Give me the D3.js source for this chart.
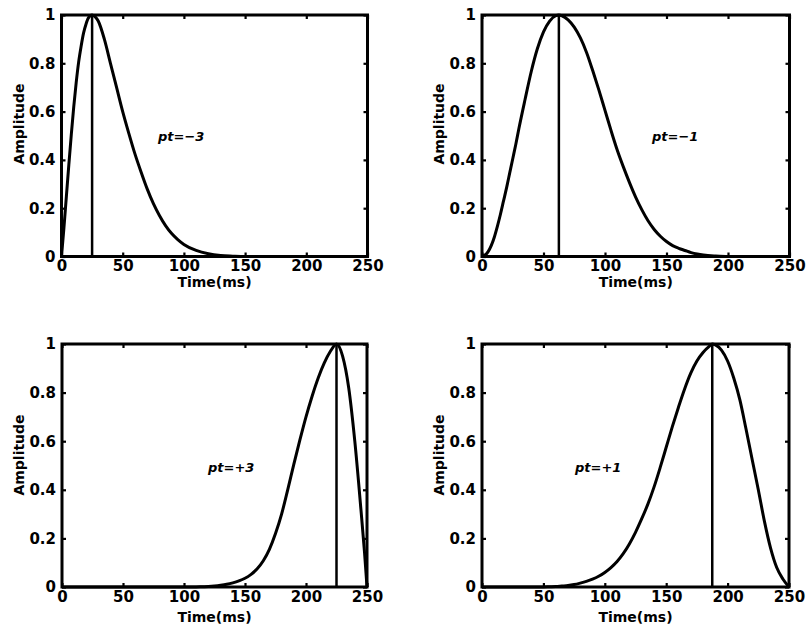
<!DOCTYPE html>
<html>
<head>
<meta charset="utf-8">
<script src="https://cdn.jsdelivr.net/npm/d3@7"></script>
<style>
  html, body { margin: 0; padding: 0; background: #fff; }
  svg { display: block; }
  text { font-family: "DejaVu Sans", sans-serif; font-weight: bold; fill: #000; }
</style>
</head>
<body>
<svg id="chart" width="806" height="633"></svg>
<script>
// ---- Data ----
const xTicks = [0, 50, 100, 150, 200, 250];
const yTicks = [0, 0.2, 0.4, 0.6, 0.8, 1];
const xLabel = "Time(ms)";
const yLabel = "Amplitude";

// Panel 1: pt = -3 (peak at 25 ms)
const time1 = [0, 2, 4, 6, 8, 10, 12, 14, 16, 18, 20, 22, 25, 28, 30, 35, 40, 45, 50, 55, 60, 65, 70, 75, 80, 85, 90, 95, 100, 110, 120, 130, 140, 150, 175, 200, 225, 250];
const amp1  = [0, 0.12, 0.25, 0.38, 0.505, 0.62, 0.72, 0.805, 0.87, 0.925, 0.962, 0.988, 1.0, 0.99, 0.975, 0.9, 0.8, 0.7, 0.6, 0.51, 0.425, 0.35, 0.28, 0.22, 0.17, 0.128, 0.095, 0.07, 0.05, 0.025, 0.011, 0.004, 0.0015, 0, 0, 0, 0, 0];

// Panel 2: pt = -1 (peak at 62.5 ms)
const time2 = [0, 2.5, 5, 7.5, 10, 12.5, 15, 17.5, 20, 22.5, 25, 27.5, 30, 35, 40, 45, 50, 55, 60, 62.5, 65, 70, 75, 80, 85, 90, 95, 100, 105, 110, 115, 120, 125, 130, 135, 140, 145, 150, 155, 160, 165, 170, 175, 180, 190, 200, 225, 250];
const amp2  = [0, 0.006, 0.02, 0.045, 0.08, 0.125, 0.175, 0.23, 0.285, 0.345, 0.405, 0.465, 0.53, 0.65, 0.765, 0.86, 0.93, 0.975, 0.997, 1.0, 0.997, 0.98, 0.95, 0.905, 0.845, 0.77, 0.69, 0.605, 0.52, 0.44, 0.37, 0.305, 0.245, 0.193, 0.148, 0.112, 0.084, 0.062, 0.045, 0.034, 0.025, 0.016, 0.01, 0.006, 0.002, 0, 0, 0];

// Panel 3: pt = +3 (peak at 225 ms)
const time3 = [0, 50, 100, 110, 115, 120, 125, 130, 135, 140, 145, 150, 155, 160, 165, 170, 175, 180, 185, 190, 195, 200, 205, 210, 215, 220, 225, 230, 235, 240, 245, 248, 250];
const amp3  = [0, 0, 0, 0, 0.001, 0.002, 0.004, 0.007, 0.011, 0.017, 0.025, 0.036, 0.052, 0.075, 0.108, 0.155, 0.22, 0.3, 0.4, 0.505, 0.605, 0.7, 0.785, 0.86, 0.922, 0.97, 1.0, 0.95, 0.82, 0.60, 0.32, 0.14, 0];

// Panel 4: pt = +1 (peak at 187.5 ms)
const time4 = [0, 25, 50, 55, 60, 65, 70, 75, 80, 85, 90, 95, 100, 105, 110, 115, 120, 125, 130, 135, 140, 145, 150, 155, 160, 165, 170, 175, 180, 185, 187.5, 190, 195, 200, 205, 210, 215, 220, 225, 230, 235, 240, 245, 250];
const amp4  = [0, 0, 0, 0.001, 0.002, 0.004, 0.006, 0.01, 0.016, 0.023, 0.032, 0.044, 0.06, 0.08, 0.105, 0.137, 0.177, 0.225, 0.28, 0.34, 0.41, 0.49, 0.575, 0.66, 0.74, 0.815, 0.88, 0.93, 0.965, 0.99, 1.0, 0.996, 0.975, 0.93, 0.86, 0.77, 0.65, 0.525, 0.4, 0.27, 0.16, 0.08, 0.033, 0];

const peakTimes = [25, 62.5, 225, 187.5];
const ptLabels = ["pt=\u22123", "pt=\u22121", "pt=+3", "pt=+1"];

// ---- Layout ----
const panels = [
  { x0: 61.5, x1: 367.5, y0: 15, y1: 256.5, t: time1, a: amp1, labX: 18.5, labY: 124, xlabBase: 286.5 },
  { x0: 482,  x1: 789.5, y0: 15, y1: 256.5, t: time2, a: amp2, labX: 439, labY: 124, xlabBase: 286.5 },
  { x0: 62,   x1: 367,   y0: 344, y1: 587, t: time3, a: amp3, labX: 18.5, labY: 455, xlabBase: 622 },
  { x0: 482,  x1: 789,   y0: 344, y1: 587, t: time4, a: amp4, labX: 439, labY: 455, xlabBase: 622 }
];
const labelBaselines = [141, 141, 472, 472];
const labelLefts = [158, 652, 208, 575];

const svg = d3.select("#chart");
const fmt = d => (d === 0 || d === 1) ? String(d) : d.toFixed(1);

panels.forEach((p, i) => {
  const x = d3.scaleLinear().domain([0, 250]).range([p.x0, p.x1]);
  const y = d3.scaleLinear().domain([0, 1]).range([p.y1, p.y0]);
  const g = svg.append("g");

  // axes with inward ticks
  const ax = g.append("g").attr("transform", `translate(0,${p.y1})`)
    .call(d3.axisBottom(x).tickValues(xTicks).tickSizeInner(-4).tickSizeOuter(0).tickPadding(4).tickFormat(d3.format("d")));
  const ay = g.append("g").attr("transform", `translate(${p.x0},0)`)
    .call(d3.axisLeft(y).tickValues(yTicks).tickSizeInner(-4).tickSizeOuter(0).tickPadding(6).tickFormat(fmt));
  const at = g.append("g").attr("transform", `translate(0,${p.y0})`)
    .call(d3.axisTop(x).tickValues(xTicks).tickSizeInner(-4).tickSizeOuter(0).tickFormat(""));
  const ar = g.append("g").attr("transform", `translate(${p.x1},0)`)
    .call(d3.axisRight(y).tickValues(yTicks).tickSizeInner(-4).tickSizeOuter(0).tickFormat(""));
  [ax, ay, at, ar].forEach(a => {
    a.select(".domain").remove();
    a.selectAll(".tick line").attr("stroke", "#000").attr("stroke-width", 2.2);
    a.selectAll(".tick text").attr("font-size", 15).attr("font-family", "DejaVu Sans").attr("font-weight", "bold").attr("fill", "#000");
  });

  // frame
  g.append("rect")
    .attr("x", p.x0).attr("y", p.y0)
    .attr("width", p.x1 - p.x0).attr("height", p.y1 - p.y0)
    .attr("fill", "none").attr("stroke", "#000").attr("stroke-width", 3);

  // peak marker line
  g.append("line")
    .attr("x1", x(peakTimes[i])).attr("x2", x(peakTimes[i]))
    .attr("y1", y(0)).attr("y2", y(1))
    .attr("stroke", "#000").attr("stroke-width", 2.5);

  // curve
  const data = p.t.map((t, k) => [t, p.a[k]]);
  g.append("path")
    .datum(data)
    .attr("fill", "none").attr("stroke", "#000").attr("stroke-width", 3)
    .attr("stroke-linejoin", "round")
    .attr("d", d3.line().x(d => x(d[0])).y(d => y(d[1])).curve(d3.curveMonotoneX));

  // labels
  g.append("text")
    .attr("x", (p.x0 + p.x1) / 2).attr("y", p.xlabBase)
    .attr("text-anchor", "middle").attr("font-size", 14)
    .text(xLabel);
  g.append("text")
    .attr("transform", `translate(${p.labX + 5},${p.labY}) rotate(-90)`)
    .attr("text-anchor", "middle").attr("font-size", 14)
    .text(yLabel);

  g.append("text")
    .attr("x", labelLefts[i]).attr("y", labelBaselines[i])
    .attr("font-size", 13).attr("font-style", "italic")
    .text(ptLabels[i]);
});
</script>
</body>
</html>
